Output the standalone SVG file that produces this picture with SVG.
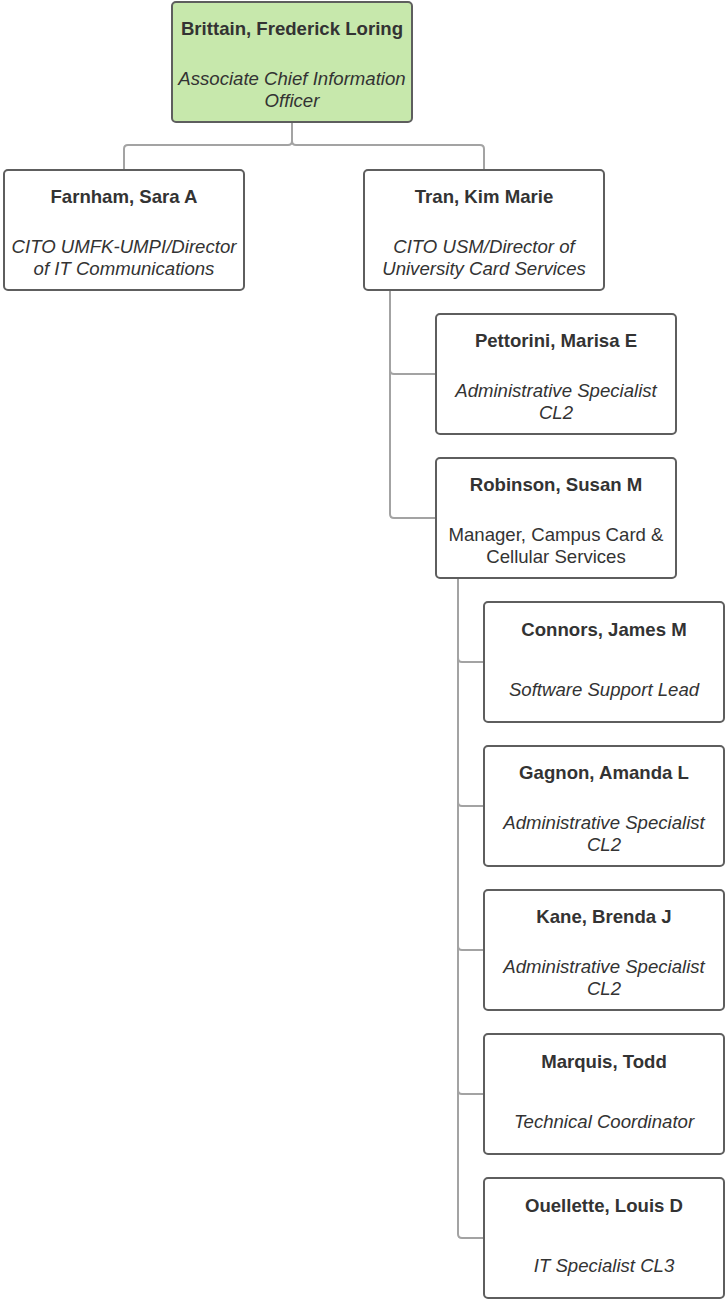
<svg xmlns="http://www.w3.org/2000/svg" width="725" height="1299" viewBox="0 0 725 1299">
<style>
.box{fill:#ffffff;stroke:#5e5e5e;stroke-width:2}
.root{fill:#c7e8ac}
.name{font-family:"Liberation Sans",Arial,sans-serif;font-size:18.6px;font-weight:bold;fill:#333333;text-anchor:middle}
.title{font-family:"Liberation Sans",Arial,sans-serif;font-size:18.6px;font-style:italic;fill:#333333;text-anchor:middle}
.plain{font-style:normal}
.conn{fill:none;stroke:#a3a3a3;stroke-width:2}
</style>
<rect width="725" height="1299" fill="#ffffff"/>
<g id="connectors">
<path class="conn" d="M292,122 V141 Q292,145 288,145 H128 Q124,145 124,149 V170"/>
<path class="conn" d="M292,141 Q292,145 296,145 H480 Q484,145 484,149 V170"/>
<path class="conn" d="M390,290 V370 Q390,374 394,374 H436"/>
<path class="conn" d="M390,370 V514 Q390,518 394,518 H436"/>
<path class="conn" d="M458,578 V658 Q458,662 462,662 H484"/>
<path class="conn" d="M458,658 V802 Q458,806 462,806 H484"/>
<path class="conn" d="M458,802 V946 Q458,950 462,950 H484"/>
<path class="conn" d="M458,946 V1090 Q458,1094 462,1094 H484"/>
<path class="conn" d="M458,1090 V1234 Q458,1238 462,1238 H484"/>
</g>
<g id="brittain">
<rect class="box root" x="172" y="2" width="240" height="120" rx="4"/>
<text class="name" x="292" y="35">Brittain, Frederick Loring</text>
<text class="title" x="292" y="85">Associate Chief Information</text>
<text class="title" x="292" y="107">Officer</text>
</g>
<g id="farnham">
<rect class="box" x="4" y="170" width="240" height="120" rx="4"/>
<text class="name" x="124" y="203">Farnham, Sara A</text>
<text class="title" x="124" y="253">CITO UMFK-UMPI/Director</text>
<text class="title" x="124" y="275">of IT Communications</text>
</g>
<g id="tran">
<rect class="box" x="364" y="170" width="240" height="120" rx="4"/>
<text class="name" x="484" y="203">Tran, Kim Marie</text>
<text class="title" x="484" y="253">CITO USM/Director of</text>
<text class="title" x="484" y="275">University Card Services</text>
</g>
<g id="pettorini">
<rect class="box" x="436" y="314" width="240" height="120" rx="4"/>
<text class="name" x="556" y="347">Pettorini, Marisa E</text>
<text class="title" x="556" y="397">Administrative Specialist</text>
<text class="title" x="556" y="419">CL2</text>
</g>
<g id="robinson">
<rect class="box" x="436" y="458" width="240" height="120" rx="4"/>
<text class="name" x="556" y="491">Robinson, Susan M</text>
<text class="title plain" x="556" y="541">Manager, Campus Card &amp;</text>
<text class="title plain" x="556" y="563">Cellular Services</text>
</g>
<g id="connors">
<rect class="box" x="484" y="602" width="240" height="120" rx="4"/>
<text class="name" x="604" y="636">Connors, James M</text>
<text class="title" x="604" y="696">Software Support Lead</text>
</g>
<g id="gagnon">
<rect class="box" x="484" y="746" width="240" height="120" rx="4"/>
<text class="name" x="604" y="779">Gagnon, Amanda L</text>
<text class="title" x="604" y="829">Administrative Specialist</text>
<text class="title" x="604" y="851">CL2</text>
</g>
<g id="kane">
<rect class="box" x="484" y="890" width="240" height="120" rx="4"/>
<text class="name" x="604" y="923">Kane, Brenda J</text>
<text class="title" x="604" y="973">Administrative Specialist</text>
<text class="title" x="604" y="995">CL2</text>
</g>
<g id="marquis">
<rect class="box" x="484" y="1034" width="240" height="120" rx="4"/>
<text class="name" x="604" y="1068">Marquis, Todd</text>
<text class="title" x="604" y="1128">Technical Coordinator</text>
</g>
<g id="ouellette">
<rect class="box" x="484" y="1178" width="240" height="120" rx="4"/>
<text class="name" x="604" y="1212">Ouellette, Louis D</text>
<text class="title" x="604" y="1272">IT Specialist CL3</text>
</g>
</svg>
